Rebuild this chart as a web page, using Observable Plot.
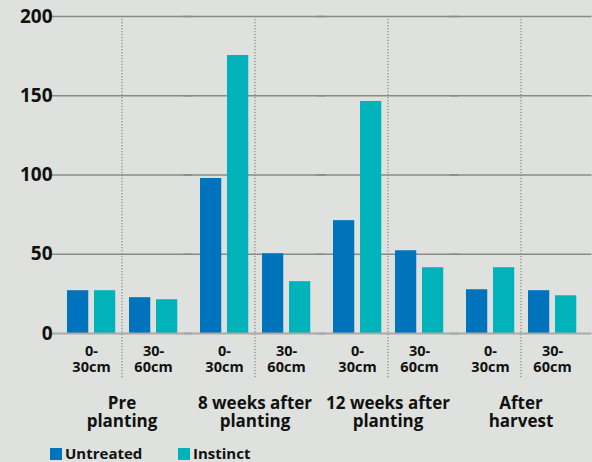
<!DOCTYPE html>
<html><head><meta charset="utf-8">
<script src="https://cdn.jsdelivr.net/npm/d3@7"></script>
<script src="https://cdn.jsdelivr.net/npm/@observablehq/plot@0.6"></script>
<style>
html,body{margin:0;padding:0;background:#dfe1de;}
body{width:592px;height:462px;overflow:hidden;font-family:"Open Sans",sans-serif;position:relative;}
#legend{position:absolute;left:50px;top:445px;display:flex;font-weight:700;font-size:15px;color:#111;line-height:17px;}
#legend .item{display:flex;align-items:center;width:128px;}
#legend .sw{width:12px;height:12px;margin-right:3px;}
</style></head><body><div id="chart"></div><div id="legend"></div>
<script>
const groups = ["Pre\nplanting", "8 weeks after\nplanting", "12 weeks after\nplanting", "After\nharvest"];
const depths = ["0-\n30cm", "30-\n60cm"];
const series = ["Untreated", "Instinct"];
const untreated = [27.0, 22.6, 97.8, 50.3, 71.2, 52.2, 27.6, 27.0];
const instinct = [27.0, 21.3, 175.4, 32.7, 146.4, 41.5, 41.5, 23.8];
const yTicks = [0, 50, 100, 150, 200];
const colors = ["#0073bd", "#00b2b9"];

const data = [];
groups.forEach((g, gi) => depths.forEach((d, di) => series.forEach((s, si) => {
  data.push({group: g, depth: d, series: s, value: (si === 0 ? untreated : instinct)[gi * 2 + di]});
})));

const textStyle = {fill: "#111", fontWeight: 700};
const chart = Plot.plot({
  width: 592, height: 438,
  marginTop: 16, marginLeft: 50, marginRight: 0, marginBottom: 105,
  style: {fontFamily: "'Open Sans', sans-serif", background: "transparent", overflow: "visible"},
  fx: {domain: groups, paddingInner: 0.06, paddingOuter: 0.06, align: 0.5, label: null},
  x: {domain: depths, padding: 0, label: null},
  y: {domain: [0, 200], label: null},
  marks: [
    Plot.ruleY(yTicks.filter(t => t > 0), {y: d => d, stroke: "#8a8a8a", strokeWidth: 1.4, insetLeft: -8.5, insetRight: -8.5}),
    Plot.gridFx({stroke: "#8f8f8f", strokeOpacity: 1, strokeWidth: 1.3, strokeDasharray: "1.3,1.7", insetBottom: -46}),
    Plot.barY(data.filter(d => d.series === series[0]), {fx: "group", x: "depth", y: "value", fill: colors[0], insetLeft: 7, insetRight: 33.75}),
    Plot.barY(data.filter(d => d.series === series[1]), {fx: "group", x: "depth", y: "value", fill: colors[1], insetLeft: 34, insetRight: 6.75}),
    Plot.ruleY([0], {stroke: "#a9a9a9", strokeWidth: 2.2, insetLeft: -8.5, insetRight: -8.5}),
    Plot.axisY({ticks: yTicks, tickSize: 0, tickPadding: 7, fontSize: 19, ...textStyle, label: null}),
    Plot.axisX({tickSize: 0, tickPadding: 12, fontSize: 14.5, lineHeight: 1.05, ...textStyle, label: null}),
    Plot.axisFx({anchor: "bottom", tickSize: 0, tickPadding: 62, fontSize: 17, lineHeight: 1.1, ...textStyle, label: null})
  ]
});
document.getElementById("chart").appendChild(chart);

const legend = d3.select("#legend");
series.forEach((s, i) => {
  const it = legend.append("div").attr("class", "item");
  it.append("div").attr("class", "sw").style("background", colors[i]);
  it.append("span").text(s);
});
</script></body></html>
